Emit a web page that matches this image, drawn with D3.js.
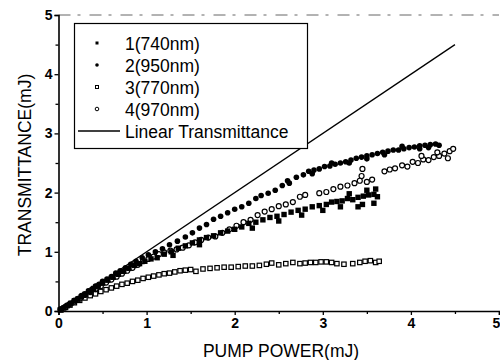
<!DOCTYPE html>
<html>
<head>
<meta charset="utf-8">
<script src="https://cdn.jsdelivr.net/npm/d3@7"></script>
<style>
  body { margin: 0; background: #fff; }
  svg { font-family: "Liberation Sans", Arial, sans-serif; }
</style>
</head>
<body>
<div id="chart"></div>
<script>
// series values, [pump power, transmittance]
const s740 = [[0.02,0.02],[0.06,0.05],[0.1,0.09],[0.14,0.13],[0.18,0.17],[0.22,0.2],[0.26,0.24],[0.3,0.28],[0.35,0.33],[0.4,0.38],[0.45,0.42],[0.5,0.47],[0.56,0.52],[0.62,0.57],[0.68,0.62],[0.74,0.67],[0.8,0.72],[0.86,0.77],[0.92,0.8],[0.98,0.84],[1.05,0.88],[1.12,0.9],[1.2,0.96],[1.28,1.0],[1.36,1.06],[1.44,1.1],[1.52,1.15],[1.6,1.2],[1.68,1.24],[1.76,1.27],[1.84,1.32],[1.92,1.35],[2.0,1.38],[2.08,1.42],[2.16,1.48],[2.24,1.5],[2.32,1.54],[2.4,1.58],[2.48,1.6],[2.56,1.63],[2.64,1.67],[2.72,1.7],[2.8,1.72],[2.88,1.76],[2.96,1.78],[3.04,1.8],[3.1,1.84],[3.16,1.85],[3.22,1.86],[3.28,1.9],[3.34,1.88],[3.4,1.92],[3.46,1.94],[3.52,1.96],[3.58,1.97],[3.62,1.93],[1.3,0.94],[1.6,1.12],[2.2,1.4],[2.5,1.52],[2.76,1.62],[3.0,1.7],[3.2,1.76],[3.3,1.98],[3.45,1.8],[3.5,2.04],[3.58,1.82],[3.6,2.06],[3.4,1.76]];
const s950 = [[0.02,0.03],[0.06,0.06],[0.1,0.1],[0.14,0.13],[0.18,0.18],[0.22,0.21],[0.26,0.26],[0.3,0.29],[0.34,0.34],[0.38,0.37],[0.42,0.42],[0.46,0.45],[0.5,0.5],[0.55,0.54],[0.6,0.58],[0.65,0.64],[0.7,0.68],[0.76,0.73],[0.82,0.79],[0.88,0.84],[0.95,0.9],[1.02,0.95],[1.1,1.0],[1.18,1.05],[1.26,1.12],[1.35,1.18],[1.44,1.25],[1.52,1.32],[1.6,1.4],[1.68,1.46],[1.76,1.55],[1.84,1.6],[1.92,1.66],[2.0,1.72],[2.08,1.76],[2.16,1.82],[2.24,1.9],[2.3,1.95],[2.38,1.99],[2.46,2.04],[2.54,2.12],[2.62,2.16],[2.7,2.26],[2.78,2.3],[2.84,2.36],[2.9,2.38],[2.96,2.4],[3.02,2.44],[3.08,2.45],[3.14,2.48],[3.2,2.5],[3.26,2.52],[3.32,2.55],[3.38,2.58],[3.44,2.6],[3.5,2.62],[3.56,2.64],[3.62,2.66],[3.68,2.68],[3.74,2.7],[3.8,2.72],[3.86,2.72],[3.92,2.74],[3.98,2.76],[4.04,2.77],[4.1,2.79],[4.16,2.8],[4.22,2.81],[4.28,2.82],[4.32,2.8],[2.6,2.2],[2.88,2.32],[3.1,2.5],[3.3,2.5],[3.5,2.57],[3.7,2.64],[3.9,2.78],[4.1,2.74],[4.2,2.76]];
const s770 = [[0.03,0.02],[0.08,0.06],[0.13,0.1],[0.18,0.14],[0.24,0.18],[0.3,0.22],[0.36,0.26],[0.42,0.29],[0.48,0.33],[0.54,0.36],[0.6,0.39],[0.66,0.42],[0.72,0.45],[0.78,0.47],[0.84,0.5],[0.9,0.52],[0.96,0.55],[1.02,0.57],[1.08,0.59],[1.14,0.61],[1.2,0.63],[1.26,0.64],[1.32,0.66],[1.38,0.68],[1.44,0.69],[1.5,0.7],[1.56,0.67],[1.64,0.71],[1.72,0.72],[1.8,0.73],[1.88,0.74],[1.96,0.74],[2.04,0.75],[2.12,0.76],[2.2,0.76],[2.28,0.77],[2.36,0.79],[2.42,0.81],[2.5,0.78],[2.58,0.8],[2.66,0.82],[2.74,0.8],[2.8,0.81],[2.86,0.82],[2.92,0.82],[2.98,0.83],[3.04,0.83],[3.1,0.82],[3.16,0.8],[3.24,0.79],[3.34,0.8],[3.42,0.82],[3.48,0.84],[3.54,0.85],[3.6,0.82],[3.64,0.84]];
const s970 = [[0.03,0.03],[0.08,0.07],[0.13,0.12],[0.18,0.16],[0.24,0.21],[0.3,0.27],[0.36,0.32],[0.42,0.37],[0.48,0.42],[0.54,0.48],[0.6,0.53],[0.66,0.58],[0.72,0.63],[0.78,0.68],[0.84,0.73],[0.9,0.78],[0.96,0.84],[1.02,0.88],[1.08,0.92],[1.14,0.96],[1.2,0.99],[1.27,1.02],[1.34,1.04],[1.41,1.07],[1.48,1.11],[1.55,1.16],[1.62,1.2],[1.7,1.24],[1.78,1.26],[1.86,1.32],[1.94,1.38],[2.02,1.44],[2.1,1.5],[2.18,1.54],[2.26,1.62],[2.34,1.68],[2.42,1.72],[2.5,1.77],[2.58,1.8],[2.66,1.84],[2.74,1.93],[2.8,1.96],[2.96,1.99],[3.04,2.01],[3.12,2.06],[3.2,2.1],[3.28,2.12],[3.36,2.16],[3.44,2.28],[3.5,2.18],[3.56,2.22],[3.7,2.36],[3.76,2.39],[3.82,2.41],[3.9,2.46],[3.96,2.44],[4.02,2.52],[4.08,2.5],[4.14,2.56],[4.2,2.55],[4.26,2.6],[4.32,2.62],[4.38,2.66],[4.44,2.7],[4.48,2.74],[4.42,2.58],[4.3,2.68],[4.12,2.62],[3.45,2.4],[3.42,2.2]];
const linearLine = [[0, 0], [4.5, 4.5]];

const legendLabels = ["1(740nm)", "2(950nm)", "3(770nm)", "4(970nm)", "Linear Transmittance"];
const xTicks = [0, 1, 2, 3, 4, 5];
const yTicks = [0, 1, 2, 3, 4, 5];
const minorTicks = [0.5, 1.5, 2.5, 3.5, 4.5];

const width = 500, height = 360;
const margin = { left: 58.5, top: 15 };

const svg = d3.select('#chart').append('svg')
  .attr('width', width)
  .attr('height', height);

const x = d3.scaleLinear().domain([0, 5]).range([margin.left, 499]);
const y = d3.scaleLinear().domain([0, 5]).range([311, margin.top]);

// faint broken top frame, as in the scan
svg.append('line')
  .attr('x1', x(0)).attr('x2', x(5))
  .attr('y1', y(5)).attr('y2', y(5))
  .attr('stroke', '#666').attr('stroke-width', 1)
  .attr('stroke-dasharray', '12,7,3,9');

// axes (major + minor ticks, outward)
const xAxis = svg.append('g').attr('transform', `translate(0,${y(0)})`)
  .call(d3.axisBottom(x).tickValues(xTicks).tickSize(4).tickPadding(3).tickFormat(d3.format('d')));
svg.append('g').attr('transform', `translate(0,${y(0)})`)
  .call(d3.axisBottom(x).tickValues(minorTicks).tickSize(3).tickFormat(''))
  .select('.domain').remove();

svg.append('g').attr('transform', `translate(${x(0)},0)`)
  .call(d3.axisLeft(y).tickValues(yTicks).tickSize(4).tickPadding(2).tickFormat(d3.format('d')));
svg.append('g').attr('transform', `translate(${x(0)},0)`)
  .call(d3.axisLeft(y).tickValues(minorTicks).tickSize(3).tickFormat(''))
  .select('.domain').remove();

svg.selectAll('.domain').attr('stroke', '#000').attr('stroke-width', 1.6);
svg.selectAll('.tick line').attr('stroke', '#000').attr('stroke-width', 1.3);
svg.selectAll('.tick text')
  .attr('fill', '#000')
  .style('font-size', '14px')
  .style('font-weight', 'bold');
// last x label sits on the page edge; nudge it inside
xAxis.selectAll('.tick text').filter(d => d === 5).attr('dx', '-3');

// axis titles
svg.append('text')
  .attr('x', 281).attr('y', 357)
  .attr('text-anchor', 'middle')
  .style('font-size', '17.5px')
  .text('PUMP POWER(mJ)');

svg.append('text')
  .attr('transform', 'translate(31,165) rotate(-90)')
  .attr('text-anchor', 'middle')
  .style('font-size', '17.5px')
  .text('TRANSMITTANCE(mJ)');

// linear transmittance reference
svg.append('path')
  .datum(linearLine)
  .attr('d', d3.line().x(d => x(d[0])).y(d => y(d[1])))
  .attr('fill', 'none')
  .attr('stroke', '#000')
  .attr('stroke-width', 1.3);

// scatter series
const plot = svg.append('g');

plot.selectAll('.s770').data(s770).enter().append('rect')
  .attr('x', d => x(d[0]) - 2.2).attr('y', d => y(d[1]) - 2.2)
  .attr('width', 4.4).attr('height', 4.4)
  .attr('fill', '#fff').attr('stroke', '#000').attr('stroke-width', 1.2);

plot.selectAll('.s970').data(s970).enter().append('circle')
  .attr('cx', d => x(d[0])).attr('cy', d => y(d[1]))
  .attr('r', 2.5)
  .attr('fill', '#fff').attr('stroke', '#000').attr('stroke-width', 1.2);

plot.selectAll('.s740').data(s740).enter().append('rect')
  .attr('x', d => x(d[0]) - 2.7).attr('y', d => y(d[1]) - 2.7)
  .attr('width', 5.4).attr('height', 5.4)
  .attr('fill', '#000');

plot.selectAll('.s950').data(s950).enter().append('circle')
  .attr('cx', d => x(d[0])).attr('cy', d => y(d[1]))
  .attr('r', 2.8)
  .attr('fill', '#000');

// legend
const legend = svg.append('g');
legend.append('rect')
  .attr('x', 74.5).attr('y', 23.5)
  .attr('width', 233).attr('height', 125)
  .attr('fill', '#fff').attr('stroke', '#000').attr('stroke-width', 1.2);

const rowY = [43, 65, 87, 109, 131];
legend.selectAll('text').data(legendLabels).enter().append('text')
  .attr('x', 125).attr('y', (d, i) => rowY[i] + 6.5)
  .style('font-size', '17.5px')
  .text(d => d);

legend.append('rect').attr('x', 95.5).attr('y', rowY[0] - 1.5).attr('width', 3).attr('height', 3).attr('fill', '#000');
legend.append('circle').attr('cx', 97).attr('cy', rowY[1]).attr('r', 1.8).attr('fill', '#000');
legend.append('rect').attr('x', 95.5).attr('y', rowY[2] - 1.5).attr('width', 3).attr('height', 3)
  .attr('fill', '#fff').attr('stroke', '#000').attr('stroke-width', 1);
legend.append('circle').attr('cx', 97).attr('cy', rowY[3]).attr('r', 1.8)
  .attr('fill', '#fff').attr('stroke', '#000').attr('stroke-width', 1);
legend.append('line')
  .attr('x1', 78).attr('x2', 120).attr('y1', rowY[4]).attr('y2', rowY[4])
  .attr('stroke', '#000').attr('stroke-width', 1.3);
</script>
</body>
</html>
